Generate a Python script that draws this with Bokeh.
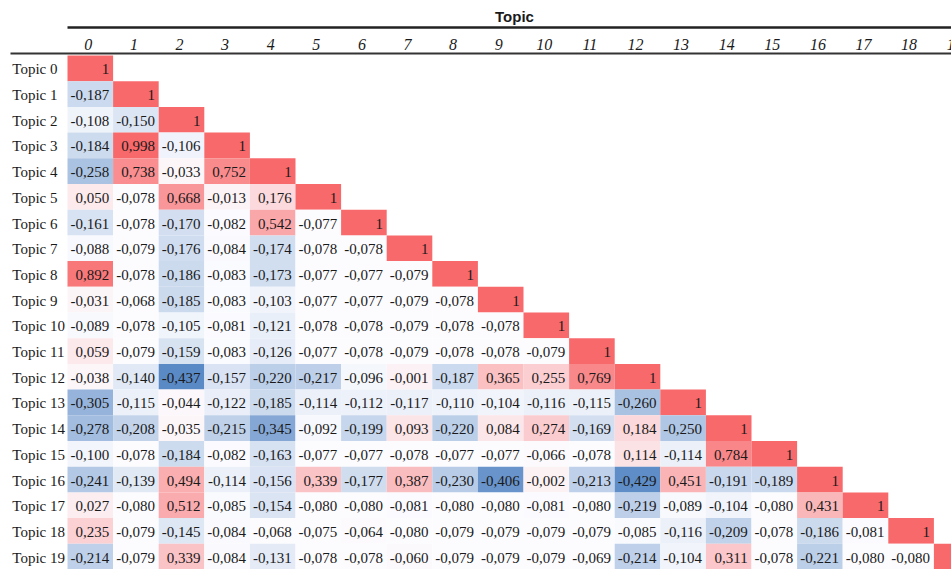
import numpy as np
from bokeh.plotting import figure
from bokeh.models import ColumnDataSource, Range1d
from bokeh.core.properties import value
from bokeh.embed import file_html
from bokeh.resources import INLINE

# ---------------- data ----------------
header_title = "Topic"
row_labels = [f"Topic {i}" for i in range(20)]
col_labels = [str(i) for i in range(20)]

r0 = [1]
r1 = [-0.187, 1]
r2 = [-0.108, -0.150, 1]
r3 = [-0.184, 0.998, -0.106, 1]
r4 = [-0.258, 0.738, -0.033, 0.752, 1]
r5 = [0.050, -0.078, 0.668, -0.013, 0.176, 1]
r6 = [-0.161, -0.078, -0.170, -0.082, 0.542, -0.077, 1]
r7 = [-0.088, -0.079, -0.176, -0.084, -0.174, -0.078, -0.078, 1]
r8 = [0.892, -0.078, -0.186, -0.083, -0.173, -0.077, -0.077, -0.079, 1]
r9 = [-0.031, -0.068, -0.185, -0.083, -0.103, -0.077, -0.077, -0.079, -0.078, 1]
r10 = [-0.089, -0.078, -0.105, -0.081, -0.121, -0.078, -0.078, -0.079, -0.078, -0.078, 1]
r11 = [0.059, -0.079, -0.159, -0.083, -0.126, -0.077, -0.078, -0.079, -0.078, -0.078, -0.079, 1]
r12 = [-0.038, -0.140, -0.437, -0.157, -0.220, -0.217, -0.096, -0.001, -0.187, 0.365, 0.255, 0.769, 1]
r13 = [-0.305, -0.115, -0.044, -0.122, -0.185, -0.114, -0.112, -0.117, -0.110, -0.104, -0.116, -0.115, -0.260, 1]
r14 = [-0.278, -0.208, -0.035, -0.215, -0.345, -0.092, -0.199, 0.093, -0.220, 0.084, 0.274, -0.169, 0.184,
       -0.250, 1]
r15 = [-0.100, -0.078, -0.184, -0.082, -0.163, -0.077, -0.077, -0.078, -0.077, -0.077, -0.066, -0.078, 0.114,
       -0.114, 0.784, 1]
r16 = [-0.241, -0.139, 0.494, -0.114, -0.156, 0.339, -0.177, 0.387, -0.230, -0.406, -0.002, -0.213, -0.429,
       0.451, -0.191, -0.189, 1]
r17 = [0.027, -0.080, 0.512, -0.085, -0.154, -0.080, -0.080, -0.081, -0.080, -0.080, -0.081, -0.080, -0.219,
       -0.089, -0.104, -0.080, 0.431, 1]
r18 = [0.235, -0.079, -0.145, -0.084, -0.068, -0.075, -0.064, -0.080, -0.079, -0.079, -0.079, -0.079, -0.085,
       -0.116, -0.209, -0.078, -0.186, -0.081, 1]
r19 = [-0.214, -0.079, 0.339, -0.084, -0.131, -0.078, -0.078, -0.060, -0.079, -0.079, -0.079, -0.069, -0.214,
       -0.104, 0.311, -0.078, -0.221, -0.080, -0.080, 1]
rows = [r0, r1, r2, r3, r4, r5, r6, r7, r8, r9, r10, r11, r12, r13, r14, r15, r16, r17, r18, r19]

# ---------------- layout / style ----------------
W, H = 951, 569
LEFT, TOP = 67, 55          # pixel edge of the table body
CW = 45.6                   # column width in px
N = len(rows)
RH = (H - TOP) / N          # row height in px

BLUE = np.array([0x5A, 0x8A, 0xC6], float)
WHITE = np.array([0xFC, 0xFC, 0xFF], float)
RED = np.array([0xF8, 0x69, 0x6B], float)

all_vals = np.array([v for r in rows for v in r], float)
lo, hi = all_vals.min(), all_vals.max()
mid = np.percentile(all_vals, 50)


def scale_color(v):
    if v <= mid:
        t = (v - lo) / (mid - lo)
        c = BLUE + t * (WHITE - BLUE)
    else:
        t = (v - mid) / (hi - mid)
        c = WHITE + t * (RED - WHITE)
    c = np.clip(np.round(c), 0, 255).astype(int)
    return "#%02x%02x%02x" % tuple(c)


def fmt(v):
    if v == 1:
        return "1"
    return f"{v:.3f}".replace(".", ",")


xs, ys, cols, texts = [], [], [], []
for i, r in enumerate(rows):
    for j, v in enumerate(r):
        xs.append(j)
        ys.append(i)
        cols.append(scale_color(v))
        texts.append(fmt(v))

src = ColumnDataSource(dict(x=xs, y=ys, color=cols, label=texts))

x_start = -0.5 - LEFT / CW
x_end = -0.5 + (W - LEFT) / CW
y_bottom = N - 0.5
y_top = -0.5 - TOP / RH

p = figure(width=W, height=H, output_backend="svg", toolbar_location=None,
           x_range=Range1d(x_start, x_end), y_range=Range1d(y_bottom, y_top),
           x_axis_type=None, y_axis_type=None, min_border=0)
p.outline_line_color = None

FS = "15px"
SERIF = "Liberation Serif"

# rules
y_rule_top = -0.5 - (TOP - 27) / RH
y_rule_low = -0.5 - (TOP - 53) / RH
p.segment(x0=[-0.5], y0=[y_rule_top], x1=[x_end], y1=[y_rule_top],
          line_color="#222222", line_width=2.5)
p.segment(x0=[-0.5 - (LEFT - 10) / CW], y0=[y_rule_low], x1=[x_end], y1=[y_rule_low],
          line_color="#333333", line_width=2)

p.rect(x="x", y="y", width=1, height=1, source=src, fill_color="color",
       line_color=None)

# header (sans bold)
p.text(x=[(N - 1) / 2], y=[0], text=[header_title], text_align="center",
       text_baseline="middle", x_offset=-9, y_offset=-52,
       text_font=value("Liberation Sans"), text_font_size="15px", text_font_style="bold",
       text_color="#1a1a1a")

# column labels (italic)
p.text(x=list(range(N)), y=[0] * N, text=col_labels, text_align="center",
       text_baseline="middle", x_offset=-2, y_offset=-24,
       text_font=value(SERIF), text_font_size="16px", text_font_style="italic",
       text_color="#1a1a1a")

# row labels
p.text(x=[0] * N, y=list(range(N)), text=row_labels, text_align="left",
       text_baseline="middle", x_offset=-78, y_offset=1,
       text_font=value(SERIF), text_font_size=FS, text_color="#1a1a1a")

# cell values
p.text(x="x", y="y", text="label", source=src, text_align="right",
       text_baseline="middle", x_offset=19, y_offset=1,
       text_font=value(SERIF), text_font_size=FS, text_color="#1a1a1a")

open("out.html", "w").write(file_html(p, INLINE))
